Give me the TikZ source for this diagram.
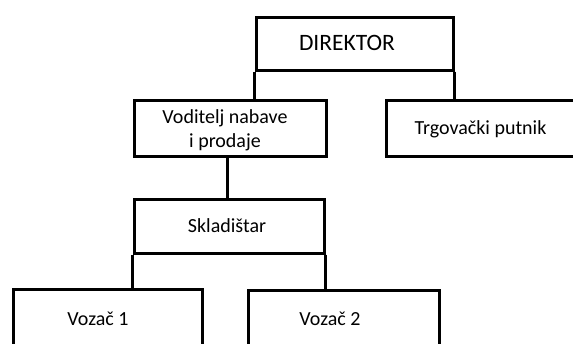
\documentclass[tikz,border=0pt]{standalone}
\usepackage{fontspec}
\setmainfont{Carlito}
\usepackage{tikz}

\begin{document}
\begin{tikzpicture}[x=1pt,y=1pt,yscale=-1,xscale=1,
  box/.style={draw, line width=3pt, inner sep=0pt},
  link/.style={line width=3pt},
  txt/.style={anchor=base, inner sep=0.75pt, align=center, font=\fontsize{20}{24}\selectfont}]
%set diagram size to 573 x 343
\useasboundingbox (0,0) rectangle (573,343);
\clip (0,0) rectangle (573,343);

%Shape: Rectangle [id:dir]
\node [box, minimum width=197, minimum height=53] (dir) at (354.5,43.5) {};
%Shape: Rectangle [id:vod]
\node [box, minimum width=192, minimum height=56] (vod) at (230,128) {};
%Shape: Rectangle [id:trg]
\node [box, minimum width=190, minimum height=56] (trg) at (481,128) {};
%Shape: Rectangle [id:skl]
\node [box, minimum width=190, minimum height=54] (skl) at (229,226) {};
%Shape: Rectangle [id:voz1]
\node [box, minimum width=189, minimum height=58] (voz1) at (107.5,318) {};
%Shape: Rectangle [id:voz2]
\node [box, minimum width=191, minimum height=58] (voz2) at (343.5,319) {};

%Straight Lines [id:dir-vod]
\draw [link] (dir.south west) -- (dir.south west |- vod.north) ;
%Straight Lines [id:dir-trg]
\draw [link] (dir.south east) -- (dir.south east |- trg.north) ;
%Straight Lines [id:vod-skl]
\draw [link] ([xshift=-2.5]vod.south) -- ([xshift=-2.5]vod.south |- skl.north) ;
%Straight Lines [id:skl-voz1]
\draw [link] (skl.south west) -- (skl.south west |- voz1.north) ;
%Straight Lines [id:skl-voz2]
\draw [link] (skl.south east) -- (skl.south east |- voz2.north) ;

% Text Node
\node [txt, font=\fontsize{23.5}{24}\selectfont] (tdir) at (347,50.7) {DIREKTOR};
% Text Node
\node [txt, anchor=center] (tvod) at (225,130) {Voditelj nabave\\i prodaje};
% Text Node
\node [txt] (ttrg) at (480.5,134) {Trgovački putnik};
% Text Node
\node [txt] (tskl) at (227,232.7) {Skladištar};
% Text Node
\node [txt] (tvoz1) at (98,325.7) {Vozač 1};
% Text Node
\node [txt] (tvoz2) at (330,325) {Vozač 2};

\end{tikzpicture}
\end{document}
